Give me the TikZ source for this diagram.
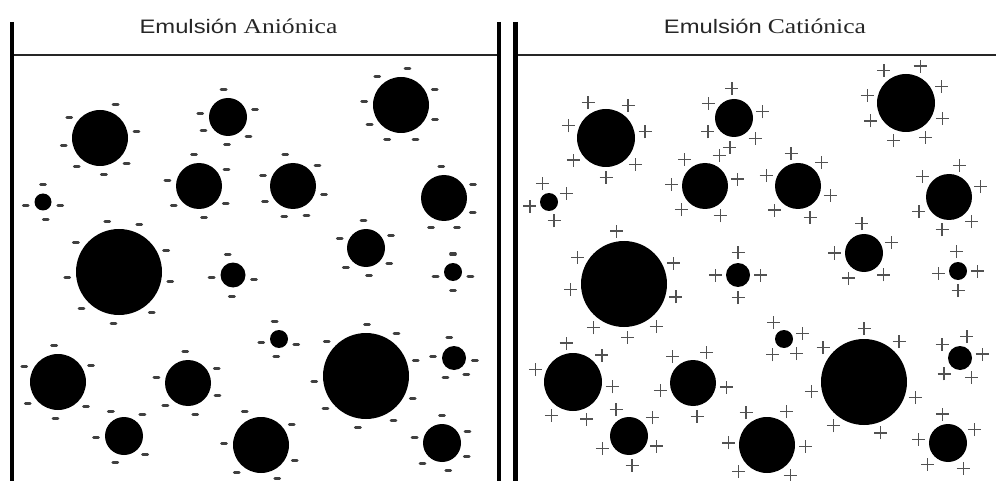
\documentclass[tikz,border=0pt]{standalone}
\usepackage{fontspec}
\setmainfont{Liberation Serif}
\newfontfamily\arialf{Liberation Sans}
\newfontfamily\timesf{Liberation Serif}
\definecolor{txt}{HTML}{262626}
\tikzset{
  x=1pt, y=-1pt,
  drop/.style={fill=black},
  negsign/.style={line width=3pt, line cap=round, draw=black!75},
  possign/.style={line width=1.25pt, draw=black!68},
  wall/.style={line width=4.5pt, draw=black},
  surface/.style={line width=2pt, draw=black!85},
  titletext/.style={text=txt, inner sep=0pt, anchor=base}
}
\newcommand\gneg[4]{%
  \fill[drop] (#1,#2) circle[radius=#3pt];
  \foreach \a in {#4}{%
    \draw[negsign] ([shift={(\a:#3pt+9pt)}]#1,#2) ++(-2.4pt,0pt) -- ++(4.8pt,0pt);
  }}
\newcommand\gpos[4]{%
  \fill[drop] (#1,#2) circle[radius=#3pt];
  \foreach \a in {#4}{%
    \draw[possign] ([shift={(\a:#3pt+10.5pt)}]#1,#2) ++(-6.5pt,0pt) -- ++(13pt,0pt) ++(-6.5pt,-6.5pt) -- ++(0pt,13pt);
  }}
\begin{document}
\begin{tikzpicture}
\useasboundingbox (0,0) rectangle (996,481);
% walls and surfaces
\coordinate (l1t) at (12,22);   \coordinate (l1b) at (12,481);
\coordinate (l2t) at (499,22);  \coordinate (l2b) at (499,481);
\coordinate (r1t) at (515.5,22); \coordinate (r1b) at (515.5,481);
\coordinate (ls1) at (12,55);   \coordinate (ls2) at (499,55);
\coordinate (rs1) at (515.5,55); \coordinate (rs2) at (996,55);
\draw[surface] (ls1) -- (ls2);
\draw[surface] (rs1) -- (rs2);
\draw[wall] (l1t) -- (l1b);
\draw[wall] (l2t) -- (l2b);
\draw[wall] (r1t) -- (r1b);
% titles
\node[titletext] (tl) at (238.5,34) {\scalebox{1.22}[1]{{\fontsize{19.5}{21}\arialf Emulsión}\hspace{5pt}{\fontsize{21}{22}\timesf Aniónica}}};
\node[titletext] (tr) at (765,34) {\scalebox{1.22}[1]{{\fontsize{19.5}{21}\arialf Emulsión}\hspace{5pt}{\fontsize{21}{22}\timesf Catiónica}}};
% anionic droplets
\gneg{100}{138}{28}{65,146,10,192,231,316,276}
\gneg{228}{117}{19}{99,172,16,209,317,268}
\gneg{401}{105}{28}{130,80,24,175,337,212,248,293}
\gneg{199}{186}{23}{99,31,171,218,327,279}
\gneg{293}{186}{23}{104,40,160,345,209,254,295}
\gneg{43}{202}{8.5}{90,190,350,279}
\gneg{444}{198}{23}{95,25,334,246,294}
\gneg{119}{272}{43}{103,67,146,25,186,350,224,309,264}
\gneg{233}{275}{12.5}{104,186,348,267}
\gneg{366}{248}{19}{95,160,27,224,326,276}
\gneg{453}{272}{9}{90,195,345,270}
\gneg{58}{382}{28}{96,156,27,215,319,266}
\gneg{188}{383}{23}{95,171,26,337,225,283}
\gneg{279}{339}{9}{190,343,261,104}
\gneg{366}{376}{43}{89,54,139,17,186,334,219,302,261}
\gneg{454}{358}{12}{103,177,354,246,306}
\gneg{124}{436}{19}{118,49,184,319,252}
\gneg{261}{445}{28}{116,34,177,336,229,296}
\gneg{442}{443}{19}{90,24,168,332,226,283}
% cationic droplets
\gpos{606}{138}{29}{117,56,162,9,214,318,270}
\gpos{734}{118}{19}{94,150,12,208,316,262}
\gpos{906}{103}{29}{124,69,25,169,337,207,252,300}
\gpos{705}{186}{23}{127,65,177,12,225,297}
\gpos{798}{186}{23}{102,45,162,344,226,291}
\gpos{549}{202}{9}{110,27,192,285}
\gpos{949}{197}{23}{72,142,18,206,313,258}
\gpos{624}{284}{43}{98,150,23,186,346,235,307,274}
\gpos{738}{275}{12}{90,180,0,270}
\gpos{864}{253}{19}{94,21,180,238,312}
\gpos{958}{271}{9}{94,187,0,270}
\gpos{573}{382}{29}{100,43,161,353,237,290}
\gpos{693}{383}{23}{127,66,193,353,277}
\gpos{784}{339}{9}{122,17,234,311}
\gpos{864}{382}{43}{90,49,140,190,343,235,288}
\gpos{960}{358}{12}{72,143,10,225,301}
\gpos{629}{436}{19}{116,38,205,340,276}
\gpos{767}{445}{28}{123,60,177,358,223,307}
\gpos{948}{443}{19}{101,27,173,226,301}
\end{tikzpicture}
\end{document}
